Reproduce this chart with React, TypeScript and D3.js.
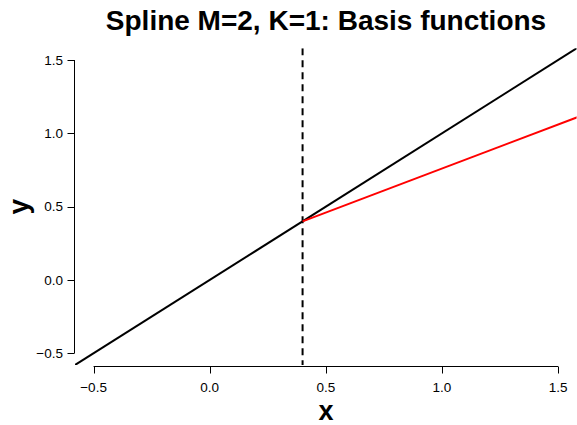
import React from "react";
import * as d3 from "d3";

const xTicks = [-0.5, 0.0, 0.5, 1.0, 1.5];
const yTicks = [-0.5, 0.0, 0.5, 1.0, 1.5];
const knot = 0.4;
// basis function 1: straight line through the whole range
const blackX = [-0.6, 1.6];
const blackY = [-0.6, 1.6];
// basis function 2: starts at the knot
const redX = [0.4, 1.6];
const redY = [0.4, 1.12];

const W = 577;
const H = 425;
const plot = { left: 75, right: 576.6, top: 48.3, bottom: 365 };

export default function App() {
  const x = d3.scaleLinear().domain([-0.58, 1.58]).range([plot.left, plot.right]);
  const y = d3.scaleLinear().domain([-0.58, 1.58]).range([plot.bottom, plot.top]);
  const line = d3
    .line<[number, number]>()
    .x((d) => x(d[0]))
    .y((d) => y(d[1]));
  const black = blackX.map((v, i) => [v, blackY[i]] as [number, number]);
  const red = redX.map((v, i) => [v, redY[i]] as [number, number]);
  const fmt = (v: number) => d3.format(".1f")(v).replace("-", "\u2212");
  const font = "'Liberation Sans', Arial, Helvetica, sans-serif";
  const axisY = 366.5;
  const axisX = 74.5;
  return (
    <svg
      width={W}
      height={H}
      style={{ position: "absolute", left: 0, top: 0, background: "#fff" }}
      fontFamily={font}
    >
      <defs>
        <clipPath id="clip">
          <rect x={plot.left} y={plot.top} width={plot.right - plot.left} height={plot.bottom - plot.top} />
        </clipPath>
      </defs>
      <text x={326} y={30} textAnchor="middle" fontSize={28} fontWeight="bold">
        Spline M=2, K=1: Basis functions
      </text>
      {/* x axis */}
      <line x1={x(xTicks[0])} x2={x(xTicks[xTicks.length - 1])} y1={axisY} y2={axisY} stroke="#000" strokeWidth={1} />
      {xTicks.map((t) => (
        <g key={"x" + t}>
          <line x1={Math.round(x(t)) + 0.5} x2={Math.round(x(t)) + 0.5} y1={axisY} y2={axisY + 7} stroke="#000" />
          <text x={x(t)} y={392} textAnchor="middle" fontSize={13.5}>
            {fmt(t)}
          </text>
        </g>
      ))}
      {/* y axis */}
      <line x1={axisX} x2={axisX} y1={y(yTicks[0])} y2={y(yTicks[yTicks.length - 1])} stroke="#000" />
      {yTicks.map((t) => (
        <g key={"y" + t}>
          <line x1={axisX - 7} x2={axisX} y1={Math.round(y(t)) + 0.5} y2={Math.round(y(t)) + 0.5} stroke="#000" />
          <text x={63} y={y(t)} dy="0.35em" textAnchor="end" fontSize={13.5}>
            {fmt(t)}
          </text>
        </g>
      ))}
      <text x={326} y={420} textAnchor="middle" fontSize={27} fontWeight="bold">
        x
      </text>
      <text
        transform={`translate(28, ${y(0.5)}) rotate(-90)`}
        textAnchor="middle"
        fontSize={28}
        fontWeight="bold"
      >
        y
      </text>
      <g clipPath="url(#clip)">
        <line x1={x(knot)} x2={x(knot)} y1={plot.top} y2={plot.bottom} stroke="#000" strokeWidth={2} strokeDasharray="7,5" />
        <path d={line(black) || ""} fill="none" stroke="#000" strokeWidth={2} />
        <path d={line(red) || ""} fill="none" stroke="#ff0000" strokeWidth={2} />
      </g>
    </svg>
  );
}
